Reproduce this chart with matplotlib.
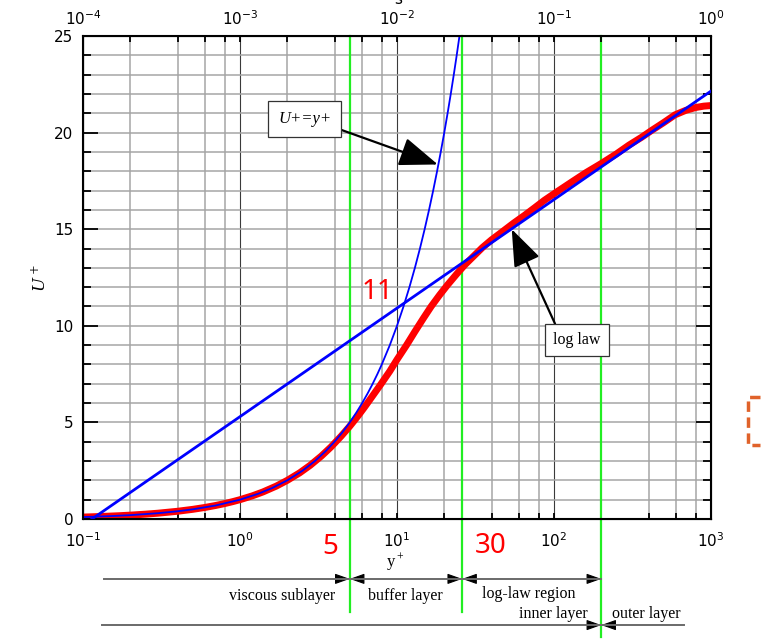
import numpy as np
import matplotlib.pyplot as plt
from matplotlib.ticker import LogLocator, MultipleLocator, NullFormatter
from matplotlib.lines import Line2D

# measured profile (red)
yp_data = [0.1, 0.13, 0.17, 0.2, 0.25, 0.3, 0.4, 0.5, 0.6, 0.7, 0.8, 0.9, 1,
           1.2, 1.4, 1.7, 2, 2.4, 2.8, 3.3, 3.8, 4.4, 5, 5.6, 6.2, 7, 7.9,
           9, 10, 11.5, 13, 14.7, 16.5, 18.7, 21, 24, 27, 31, 35, 40, 46,
           55, 65, 75, 87, 105, 130, 160, 200, 250, 300, 360, 420, 500, 590,
           690, 800, 900, 1000]
u_data = [0.1, 0.13, 0.17, 0.2, 0.25, 0.3, 0.4, 0.5, 0.6, 0.7, 0.8, 0.9, 1.0,
          1.2, 1.4, 1.7, 2.0, 2.39, 2.78, 3.26, 3.73, 4.28, 4.8, 5.3, 5.78,
          6.38, 6.98, 7.65, 8.25, 9.0, 9.7, 10.38, 11.0, 11.6, 12.12, 12.68,
          13.15, 13.63, 14.05, 14.45, 14.82, 15.3, 15.72, 16.1, 16.5, 16.95,
          17.45, 17.93, 18.4, 18.9, 19.35, 19.75, 20.12, 20.52, 20.92, 21.15,
          21.3, 21.37, 21.4]

# viscous law U+ = y+ (blue, thin)
yp_lin = [0.1, 0.15, 0.2, 0.3, 0.4, 0.5, 0.7, 1, 1.3, 1.6, 2, 2.5, 3, 3.5, 4,
          4.5, 5, 5.5, 6, 6.5, 7, 7.5, 8, 9, 10, 11, 12, 13, 14, 15, 16, 17,
          18, 19, 20, 21, 22, 23, 24, 25, 26]
u_lin = [0.1, 0.15, 0.2, 0.3, 0.4, 0.5, 0.7, 1, 1.3, 1.6, 2, 2.5, 3, 3.5, 4,
         4.5, 5, 5.5, 6, 6.5, 7, 7.5, 8, 9, 10, 11, 12, 13, 14, 15, 16, 17,
         18, 19, 20, 21, 22, 23, 24, 25, 26]

# log law (straight on log axis)
yp_log = [0.114, 1000]
u_log = [0.0, 22.15]

# region boundaries (green)
bounds = [5, 26, 200]

W, H = 761, 644
fig = plt.figure(figsize=(W/100, H/100), dpi=100)
ax = fig.add_axes([83/W, 1-519/H, 628/W, 483/H])

ax.set_xscale('log')
ax.set_xlim(0.1, 1000)
ax.set_ylim(0, 25)
ax.xaxis.set_major_locator(LogLocator(base=10))
ax.xaxis.set_minor_locator(LogLocator(base=10, subs=[2, 4, 6, 8]))
ax.xaxis.set_minor_formatter(NullFormatter())
ax.yaxis.set_major_locator(MultipleLocator(5))
ax.yaxis.set_minor_locator(MultipleLocator(1))

ax.set_axisbelow(True)
ax.grid(which='major', axis='x', color='#3a3a3a', lw=0.8)
ax.grid(which='minor', axis='x', color='#a5a5a5', lw=1.1)
ax.grid(which='both', axis='y', color='#a5a5a5', lw=1.1)

ax.tick_params(which='both', direction='in', top=False, right=True,
               labelsize=11, colors='black')
ax.tick_params(axis='y', which='major', length=11, width=1.3, pad=7)
ax.tick_params(axis='y', which='minor', length=6, width=1.3)
ax.tick_params(axis='x', which='major', length=4, width=1.3, pad=9)
ax.tick_params(axis='x', which='minor', length=4, width=1.3)
for s in ax.spines.values():
    s.set_linewidth(1.5)

# top axis
ax2 = ax.twiny()
ax2.set_xscale('log')
ax2.set_xlim(1e-4, 1)
ax2.xaxis.set_major_locator(LogLocator(base=10))
ax2.xaxis.set_minor_locator(LogLocator(base=10, subs=[2, 4, 6, 8]))
ax2.xaxis.set_minor_formatter(NullFormatter())
ax2.tick_params(which='both', direction='in', length=4, width=1.3,
                labelsize=11, pad=6)

# green region lines
for b, lo in zip(bounds, [-4.8, -4.8, -6.1]):
    ax.plot([b, b], [25, lo], color='#22ee22', lw=1.6, zorder=1.5,
            clip_on=False)

ax.plot(yp_data, u_data, color='#ff0000', lw=5, zorder=2,
        solid_capstyle='butt')
ax.plot(yp_lin, u_lin, color='#0000ff', lw=1.3, zorder=3)
ax.plot(yp_log, u_log, color='#0000ff', lw=2, zorder=3)

serif = 'Liberation Serif'
ax.annotate('U+=y+', xy=(18.2, 18.35), xytext=(2.58, 20.7),
            fontsize=12, family=serif, style='italic', ha='center',
            va='center', zorder=5,
            bbox=dict(boxstyle='square,pad=0.6', fc='white', ec='#333333',
                      lw=0.9),
            arrowprops=dict(arrowstyle='-|>,head_length=2.0,head_width=0.75',
                            color='black', lw=1.6, relpos=(1, 0.05),
                            shrinkA=0, shrinkB=0))
ax.annotate('log law', xy=(53.8, 15.0), xytext=(140, 9.25),
            fontsize=11.5, family=serif, ha='center', va='center', zorder=5,
            bbox=dict(boxstyle='square,pad=0.5', fc='white', ec='#333333',
                      lw=0.9),
            arrowprops=dict(arrowstyle='-|>,head_length=2.0,head_width=0.75',
                            color='black', lw=1.6, relpos=(0.12, 1),
                            shrinkA=0, shrinkB=0))

# red numbers
rfont = dict(color='#ff0000', fontsize=20, family='Noto Sans',
             ha='center', va='center')
ax.text(7.46, 11.75, '11', **rfont)
ax.text(3.74, -1.45, '5', clip_on=False, **rfont)
ax.text(39.7, -1.4, '30', clip_on=False, **rfont)

ax.text(9.7, -2.25, '$\\mathregular{y^+}$', family=serif, fontsize=12,
        ha='center', va='center', clip_on=False)
fig.text(40/W, 1-278/H, '$U^+$', family=serif, fontsize=12,
         rotation=90, ha='center', va='center',
         math_fontfamily='dejavuserif')
fig.text(398/W, 1-4/H, 's', fontsize=11, ha='center', va='baseline')


def bar_arrow(x0, x1, y, head0, head1):
    ax.plot([x0, x1], [y, y], color='#6a6a6a', lw=1.4, clip_on=False,
            zorder=4)
    f = 10 ** (13/157)
    for on, xe, xs in [(head0, x0, x0*f), (head1, x1, x1/f)]:
        if on:
            ax.annotate('', xy=(xe, y), xytext=(xs, y),
                        annotation_clip=False,
                        arrowprops=dict(arrowstyle='-|>,head_length=0.9,'
                                        'head_width=0.32', color='black',
                                        lw=0.8, shrinkA=0, shrinkB=0))


r1, r2 = -3.1, -5.49
bar_arrow(0.136, bounds[0], r1, False, True)
bar_arrow(bounds[0], bounds[1], r1, True, True)
bar_arrow(bounds[1], bounds[2], r1, True, True)
bar_arrow(0.132, bounds[2], r2, False, True)
bar_arrow(bounds[2], 673, r2, True, False)

lab = dict(family=serif, fontsize=11.5, va='center', clip_on=False)
ax.text(4.03, -4.0, 'viscous sublayer', ha='right', **lab)
ax.text(11.3, -4.0, 'buffer layer', ha='center', **lab)
ax.text(69.3, -3.88, 'log-law region', ha='center', **lab)
ax.text(165, -4.92, 'inner layer', ha='right', **lab)
ax.text(234, -4.92, 'outer layer', ha='left', **lab)

# orange dashed bracket at the right edge
fig.add_artist(Line2D([760/W, 748/W, 748/W, 760/W],
                      [1-397/H, 1-397/H, 1-445/H, 1-445/H],
                      color='#e0622a', lw=2.5, linestyle=(0, (3, 1.6))))

fig.savefig('out.png', dpi=100)
